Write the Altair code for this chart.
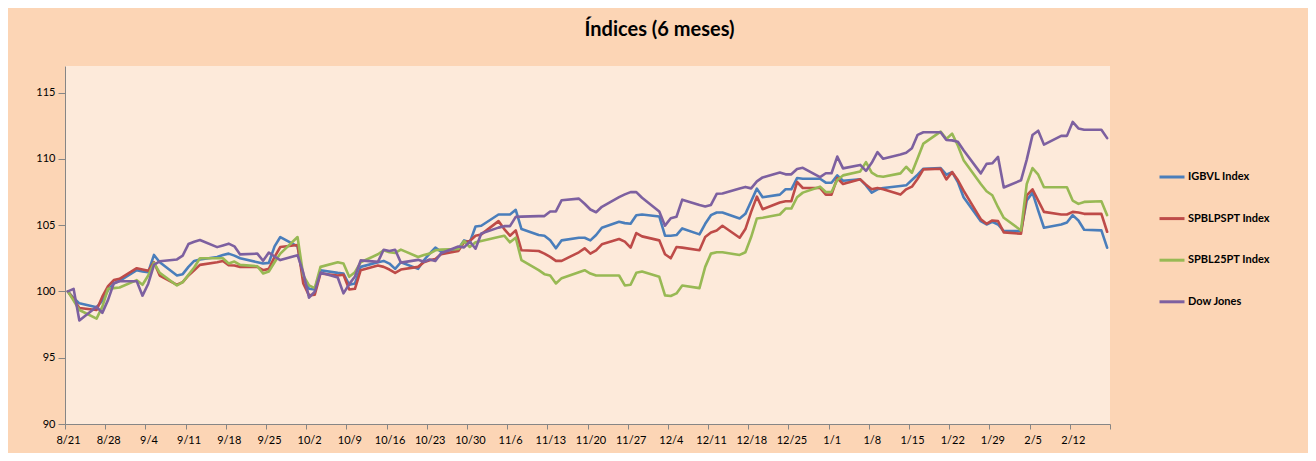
import altair as alt
import pandas as pd

dates = [
    "2019-08-21", "2019-08-22", "2019-08-23", "2019-08-26", "2019-08-27", "2019-08-28", "2019-08-29", "2019-08-30",
    "2019-09-02", "2019-09-03", "2019-09-04", "2019-09-05", "2019-09-06", "2019-09-09", "2019-09-10", "2019-09-11",
    "2019-09-12", "2019-09-13", "2019-09-16", "2019-09-17", "2019-09-18", "2019-09-19", "2019-09-20", "2019-09-23",
    "2019-09-24", "2019-09-25", "2019-09-26", "2019-09-27", "2019-09-30",
    "2019-10-01", "2019-10-02", "2019-10-03", "2019-10-04", "2019-10-07", "2019-10-08", "2019-10-09", "2019-10-10",
    "2019-10-11", "2019-10-14", "2019-10-15", "2019-10-16", "2019-10-17", "2019-10-18", "2019-10-21", "2019-10-22",
    "2019-10-23", "2019-10-24", "2019-10-25", "2019-10-28", "2019-10-29", "2019-10-30", "2019-10-31",
    "2019-11-01", "2019-11-04", "2019-11-05", "2019-11-06", "2019-11-07", "2019-11-08", "2019-11-11", "2019-11-12",
    "2019-11-13", "2019-11-14", "2019-11-15", "2019-11-18", "2019-11-19", "2019-11-20", "2019-11-21", "2019-11-22",
    "2019-11-25", "2019-11-26", "2019-11-27", "2019-11-28", "2019-11-29",
    "2019-12-02", "2019-12-03", "2019-12-04", "2019-12-05", "2019-12-06", "2019-12-09", "2019-12-10", "2019-12-11",
    "2019-12-12", "2019-12-13", "2019-12-16", "2019-12-17", "2019-12-18", "2019-12-19", "2019-12-20", "2019-12-23",
    "2019-12-24", "2019-12-25", "2019-12-26", "2019-12-27", "2019-12-30", "2019-12-31",
    "2020-01-01", "2020-01-02", "2020-01-03", "2020-01-06", "2020-01-07", "2020-01-08", "2020-01-09", "2020-01-10",
    "2020-01-13", "2020-01-14", "2020-01-15", "2020-01-16", "2020-01-17", "2020-01-20", "2020-01-21", "2020-01-22",
    "2020-01-23", "2020-01-24", "2020-01-27", "2020-01-28", "2020-01-29", "2020-01-30", "2020-01-31",
    "2020-02-03", "2020-02-04", "2020-02-05", "2020-02-06", "2020-02-07", "2020-02-10", "2020-02-11", "2020-02-12",
    "2020-02-13", "2020-02-14", "2020-02-17", "2020-02-18",
]

igbvl = [
    100, 99.5, 99.1, 98.8, 99.3, 100.1, 100.6, 100.8,
    101.6, 101.5, 101.45, 102.75, 102.2, 101.2, 101.3, 101.85, 102.3, 102.4, 102.6, 102.75, 102.85, 102.7, 102.5,
    102.2, 102.1, 102.15, 103.4, 104.1, 103.4,
    101.0, 100.2, 100.15, 101.6, 101.4, 101.35, 100.5, 100.6, 101.85, 102.2, 102.3, 102.1, 101.7, 102.2, 101.7,
    102.35, 102.85, 103.3, 103.0, 103.2, 103.85, 103.7, 104.9,
    104.95, 105.8, 105.8, 105.8, 106.15, 104.7, 104.25, 104.2, 103.85, 103.25, 103.85, 104.05, 104.05, 103.85,
    104.25, 104.8, 105.25, 105.15, 105.1, 105.75, 105.8,
    105.65, 104.2, 104.2, 104.25, 104.75, 104.3, 105.1, 105.75, 105.95, 105.95, 105.5, 105.85, 106.8, 107.75,
    107.1, 107.3, 107.7, 107.7, 108.55, 108.5, 108.5, 108.2,
    108.2, 108.75, 108.35, 108.45, 108.0, 107.45, 107.7, 107.8, 107.95, 108.0, 108.4, 108.8, 109.25, 109.3,
    108.8, 109.0, 108.25, 107.1, 105.3, 105.05, 105.25, 105.05, 104.55,
    104.55, 106.85, 107.45, 106.1, 104.8, 105.05, 105.2, 105.75, 105.35, 104.65, 104.6, 103.3,
]

spblpspt = [
    100, 99.4, 98.75, 98.6, 99.6, 100.4, 100.85, 100.95,
    101.75, 101.65, 101.55, 102.2, 101.2, 100.5, 100.7, 101.2, 101.6, 102.0, 102.2, 102.3, 101.97, 101.95, 101.85,
    101.85, 101.6, 101.7, 102.6, 103.35, 103.5,
    100.6, 99.7, 99.75, 101.35, 101.2, 101.25, 100.15, 100.2, 101.6, 101.95, 101.85, 101.65, 101.4, 101.65, 101.85,
    102.2, 102.35, 102.45, 102.8, 103.05, 103.7, 103.8, 104.2,
    104.3, 105.3, 104.7, 104.2, 104.6, 103.1, 103.05, 102.85, 102.6, 102.3, 102.3, 102.95, 103.25, 102.85,
    103.1, 103.55, 103.95, 103.75, 103.3, 104.4, 104.15,
    103.85, 102.8, 102.5, 103.35, 103.3, 103.1, 104.1, 104.45, 104.6, 104.95, 104.05, 104.7, 106.0, 107.15,
    106.2, 106.7, 106.8, 106.8, 108.25, 107.8, 107.8, 107.3,
    107.3, 108.55, 108.1, 108.45, 108.05, 107.7, 107.8, 107.7, 107.3, 107.7, 107.9, 108.5, 109.2, 109.25,
    108.45, 109.0, 108.4, 107.6, 105.45, 105.1, 105.35, 105.3, 104.45,
    104.35, 107.25, 107.7, 106.85, 106.0, 105.8, 105.8, 106.0, 105.95, 105.85, 105.85, 104.5,
]

spbl25pt = [
    100, 99.3, 98.6, 97.95, 98.85, 100.2, 100.25, 100.3,
    100.85, 100.5, 101.2, 102.15, 101.4, 100.45, 100.7, 101.25, 101.8, 102.5, 102.5, 102.5, 102.1, 102.25, 102.0,
    101.9, 101.35, 101.5, 102.2, 102.85, 104.1,
    101.2, 100.45, 100.25, 101.85, 102.2, 102.1, 101.1, 101.45, 102.2, 102.8, 103.1, 102.95, 102.9, 103.15, 102.6,
    102.75, 102.85, 103.1, 103.15, 103.2, 103.8, 103.35, 103.7,
    103.8, 104.1, 104.2, 103.7, 104.05, 102.35, 101.6, 101.3, 101.2, 100.6, 101.0, 101.45, 101.6, 101.35,
    101.2, 101.2, 101.2, 100.45, 100.5, 101.4, 101.5,
    101.1, 99.7, 99.65, 99.85, 100.45, 100.25, 101.85, 102.85, 102.95, 102.95, 102.75, 102.95, 104.1, 105.5,
    105.55, 105.8, 106.25, 106.25, 107.1, 107.45, 107.9, 107.5,
    107.5, 108.4, 108.75, 109.05, 109.75, 108.95, 108.7, 108.65, 108.9, 109.4, 108.95, 110.05, 111.15, 112.05,
    111.5, 111.9, 111.0, 109.9, 108.1, 107.55, 107.25, 106.35, 105.55,
    104.6, 108.1, 109.3, 108.8, 107.85, 107.85, 107.85, 106.85, 106.6, 106.75, 106.8, 105.75,
]

dow_jones = [
    100.0, 100.19, 97.81, 98.84, 98.38, 99.36, 100.61, 100.77,
    100.77, 99.68, 100.58, 102.01, 102.27, 102.41, 102.70, 103.57, 103.74, 103.88, 103.34, 103.47, 103.60, 103.40,
    102.79, 102.85, 102.31, 102.93, 102.63, 102.36, 102.73,
    101.41, 99.53, 99.99, 101.42, 101.05, 99.85, 100.55, 101.12, 102.34, 102.23, 103.14, 103.05, 103.14, 102.17,
    102.38, 102.23, 102.41, 102.30, 102.88, 103.39, 103.32, 103.76, 103.22,
    104.37, 104.81, 104.92, 104.92, 105.62, 105.64, 105.68, 105.68, 106.03, 106.03, 106.88, 107.00, 106.61, 106.18,
    105.97, 106.38, 107.11, 107.32, 107.49, 107.49, 107.06,
    106.03, 104.96, 105.52, 105.63, 106.92, 106.51, 106.41, 106.52, 107.36, 107.38, 107.76, 107.88, 107.77, 108.30,
    108.60, 108.96, 108.83, 108.83, 109.23, 109.32, 108.62, 108.91,
    108.91, 110.17, 109.28, 109.54, 109.09, 109.70, 110.51, 110.00, 110.32, 110.45, 110.79, 111.81, 112.00, 112.00,
    111.42, 111.39, 111.29, 110.64, 108.90, 109.62, 109.66, 110.14, 107.84,
    108.38, 109.94, 111.79, 112.12, 111.07, 111.73, 111.73, 112.78, 112.29, 112.19, 112.19, 111.56,
]

series_names = ["IGBVL Index", "SPBLPSPT Index", "SPBL25PT Index", "Dow Jones"]
series_colors = ["#4A7EBB", "#BE4B48", "#98B954", "#7D60A0"]

tick_dates = [
    "2019-08-21", "2019-08-28", "2019-09-04", "2019-09-11", "2019-09-18", "2019-09-25", "2019-10-02",
    "2019-10-09", "2019-10-16", "2019-10-23", "2019-10-30", "2019-11-06", "2019-11-13", "2019-11-20",
    "2019-11-27", "2019-12-04", "2019-12-11", "2019-12-18", "2019-12-25", "2020-01-01", "2020-01-08",
    "2020-01-15", "2020-01-22", "2020-01-29", "2020-02-05", "2020-02-12", "2020-02-19",
]
y_ticks = [90, 95, 100, 105, 110, 115]
y_domain = [90, 117]
x_domain = ["2019-08-21", "2020-02-19"]
title_text = "Índices (6 meses)"

all_values = [igbvl, spblpspt, spbl25pt, dow_jones]
rows = []
for k, (name, vals) in enumerate(zip(series_names, all_values)):
    for d, v in zip(dates, vals):
        rows.append({"t": d + "T12:00:00Z", "serie": name, "valor": v, "orden": k})
df = pd.DataFrame(rows)


def ms(s):
    return int(pd.Timestamp(s, tz="UTC").timestamp() * 1000)


tick_ms = [ms(s) for s in tick_dates]
last_ms = tick_ms[-1]

FONT = "Lato"

chart = (
    alt.Chart(df)
    .mark_line(strokeWidth=2.6, strokeJoin="round", strokeCap="round")
    .encode(
        x=alt.X(
            "t:T",
            scale=alt.Scale(type="utc", domain=[ms(x_domain[0]), ms(x_domain[1])]),
            axis=alt.Axis(
                values=tick_ms,
                labelExpr=f"datum.value >= {last_ms} ? '' : utcFormat(datum.value, '%-m/%-d')",
                title=None,
                grid=False,
                tickSize=5,
                labelPadding=5,
                labelOffset=3,
                labelFont=FONT,
                labelFontSize=11,
                labelColor="#000000",
                domainColor="#868686",
                tickColor="#868686",
                labelOverlap=False,
                labelFlush=False,
            ),
        ),
        y=alt.Y(
            "valor:Q",
            scale=alt.Scale(domain=y_domain, nice=False, zero=False),
            axis=alt.Axis(
                values=y_ticks,
                title=None,
                grid=False,
                tickSize=7,
                labelPadding=3,
                labelFont=FONT,
                labelFontSize=11,
                labelColor="#000000",
                domainColor="#868686",
                tickColor="#868686",
            ),
        ),
        color=alt.Color(
            "serie:N",
            scale=alt.Scale(domain=series_names, range=series_colors),
            legend=alt.Legend(
                orient="none",
                legendX=1093,
                legendY=97,
                title=None,
                symbolType="stroke",
                symbolSize=625,
                symbolStrokeWidth=3,
                labelFont=FONT,
                labelFontSize=11,
                labelFontWeight="bold",
                labelColor="#000000",
                labelOffset=2,
                rowPadding=21.6,
                padding=0,
                direction="vertical",
            ),
        ),
        order=alt.Order("orden:Q"),
        detail="serie:N",
    )
    .properties(
        width=1045,
        height=358,
        title=alt.TitleParams(
            title_text,
            anchor="middle",
            dx=72,
            offset=26,
            font=FONT,
            fontSize=20,
            fontWeight="bold",
            color="#000000",
        ),
        padding={"left": 57, "top": 58, "right": 198, "bottom": 29},
        autosize=alt.AutoSizeParams(type="none"),
    )
    .configure(background="#FCD5B5")
    .configure_view(fill="#FDEADA", stroke=None)
)

chart.save("out.html", embed_options={"renderer": "svg", "actions": False})
